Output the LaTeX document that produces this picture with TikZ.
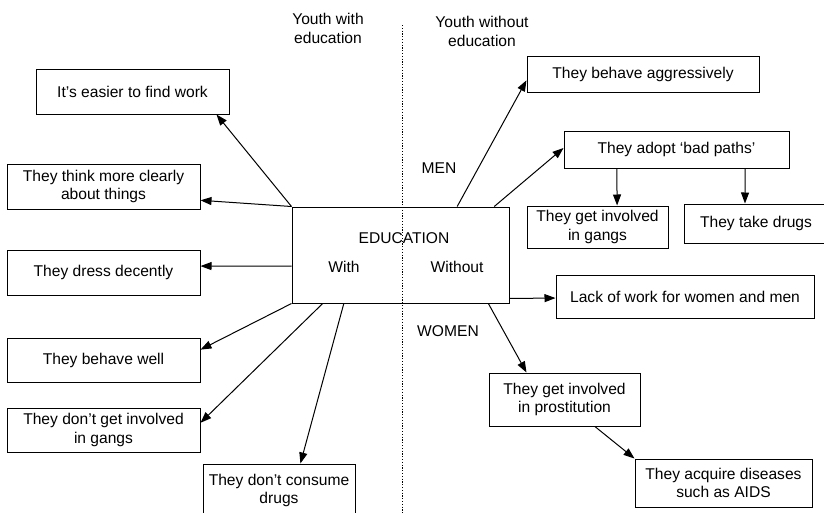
\documentclass[tikz,border=0pt]{standalone}
\usepackage{fontspec}
\setmainfont{Liberation Sans}
\usetikzlibrary{arrows.meta,calc}

\tikzset{
  box/.style={draw, line width=1pt, rectangle, inner sep=0pt, align=center,
              font=\fontsize{15.6}{18.5}\selectfont},
  lbl/.style={inner sep=0pt, align=center, font=\fontsize{15.6}{18.5}\selectfont},
  arr/.style={line width=1pt, -{Triangle[length=11pt,width=8pt]}},
  divider/.style={line width=1pt, dash pattern=on 1.2pt off 1.6pt}
}

\begin{document}
\begin{tikzpicture}[x=1pt, y=-1pt]
\useasboundingbox (0,0) rectangle (824,512);

% central box
\node[box, minimum width=217pt, minimum height=96pt] (edu) at (400.5,255) {};
\node[lbl] (eduT) at (404,238) {EDUCATION};
\node[lbl] (withT) at (344,267) {With};
\node[lbl] (withoutT) at (457,267) {Without};

% column headings and divider
\node[lbl] (hWith) at (328,28.5) {Youth with\\education};
\node[lbl] (hWithout) at (482,31.5) {Youth without\\education};
\coordinate (divTop) at (402,25);
\coordinate (divBot) at (402,514);
\draw[divider] (divTop) -- (divBot);

% outcomes with education
\node[box, minimum width=193pt, minimum height=45pt] (easier) at (132.5,91.5) {It’s easier to find work};
\node[box, minimum width=193pt, minimum height=45pt] (think) at (103.5,186.5) {They think more clearly\\about things};
\node[box, minimum width=193pt, minimum height=45pt] (dress) at (103.5,272.5) {They dress decently};
\node[box, minimum width=193pt, minimum height=44pt] (well) at (103.5,360) {They behave well};
\node[box, minimum width=193pt, minimum height=44pt] (dgangs) at (103.5,430) {They don’t get involved\\in gangs};
\node[box, minimum width=152pt, minimum height=53pt] (ddrugs) at (279,490.5) {They don’t consume\\drugs};

% outcomes without education
\node[lbl] (men) at (439,168) {MEN};
\node[lbl] (women) at (448,331) {WOMEN};
\node[box, minimum width=232pt, minimum height=36pt] (aggr) at (643,74) {They behave aggressively};
\node[box, minimum width=225pt, minimum height=37pt] (bad) at (676.5,149.5) {They adopt ‘bad paths’};
\node[box, minimum width=141pt, minimum height=42pt] (igangs) at (597.5,227) {They get involved\\in gangs};
\node[box, minimum width=144pt, minimum height=39pt] (tdrugs) at (756,223.5) {They take drugs};
\node[box, minimum width=258pt, minimum height=43pt] (lack) at (685,296.5) {Lack of work for women and men};
\node[box, minimum width=151pt, minimum height=53pt] (prost) at (564.5,399.5) {They get involved\\in prostitution};
\node[box, minimum width=177pt, minimum height=48pt] (aids) at (723.5,483) {They acquire diseases\\such as AIDS};

% connectors, left side
\draw[arr] (edu.north west) -- ($(easier.south west)!0.933!(easier.south east)$);
\draw[arr] (edu.north west) -- ($(think.north east)!0.8!(think.south east)$);
\draw[arr] ($(edu.north west)!0.615!(edu.south west)$) -- ($(dress.north east)!0.36!(dress.south east)$);
\draw[arr] (edu.south west) -- ($(well.north east)!0.27!(well.south east)$);
\draw[arr] ($(edu.south west)!0.143!(edu.south east)$) -- ($(dgangs.north east)!0.34!(dgangs.south east)$);
\draw[arr] ($(edu.south west)!0.24!(edu.south east)$) -- ($(ddrugs.north west)!0.64!(ddrugs.north east)$);

% connectors, right side
\draw[arr] ($(edu.north west)!0.76!(edu.north east)$) -- ($(aggr.north west)!0.67!(aggr.south west)$);
\draw[arr] ($(edu.north west)!0.93!(edu.north east)$) -- ($(bad.north west)!0.46!(bad.south west)$);
\draw[arr] ($(bad.south west)!0.236!(bad.south east)$) -- ($(igangs.north west)!0.638!(igangs.north east)$);
\draw[arr] ($(bad.south west)!0.804!(bad.south east)$) -- ($(tdrugs.north west)!0.424!(tdrugs.north east)$);
\draw[arr] ($(edu.north east)!0.948!(edu.south east)$) -- ($(lack.north west)!0.535!(lack.south west)$);
\draw[arr] ($(edu.south west)!0.903!(edu.south east)$) -- ($(prost.north west)!0.25!(prost.north east)$);
\draw[arr] ($(prost.south west)!0.70!(prost.south east)$) -- (aids.north west);
\end{tikzpicture}
\end{document}
